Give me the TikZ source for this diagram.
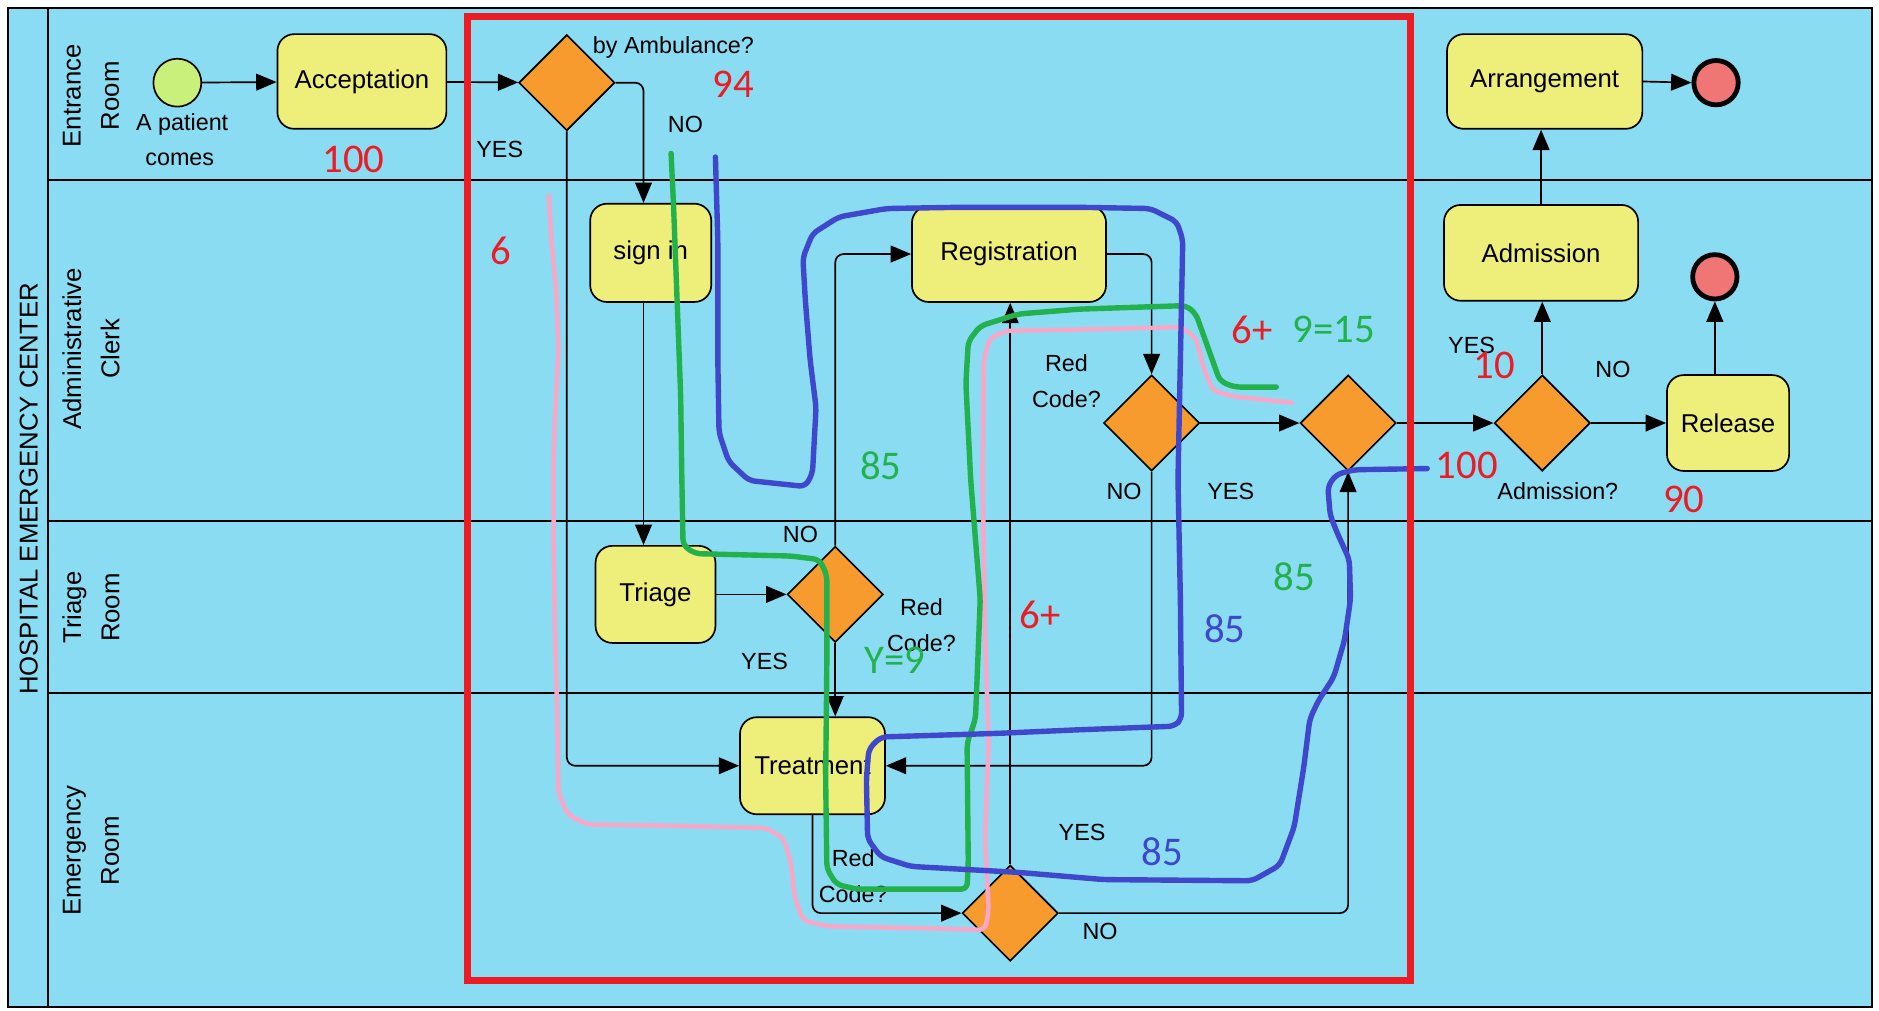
\documentclass[tikz,border=0pt]{standalone}
\usepackage{fontspec}
\setmainfont{Liberation Sans}
\newfontfamily\numfont{Carlito}
\usetikzlibrary{shapes.geometric,arrows.meta}
\definecolor{bgblue}{RGB}{137,220,242}
\definecolor{taskyellow}{RGB}{238,238,122}
\definecolor{gateorange}{RGB}{248,155,46}
\definecolor{startgreen}{RGB}{200,240,122}
\definecolor{endred}{RGB}{240,117,117}
\definecolor{boxred}{RGB}{237,28,36}
\definecolor{penpink}{RGB}{247,168,200}
\definecolor{pengreen}{RGB}{34,177,76}
\definecolor{penblue}{RGB}{63,72,204}
\tikzset{
  task/.style={draw=black, line width=1.4pt, fill=taskyellow, rounded corners=14pt,
    font=\fontsize{21.5}{25}\selectfont, inner sep=0pt},
  gate/.style={draw=black, line width=1.4pt, fill=gateorange, diamond, aspect=1,
    minimum width=80pt, minimum height=80pt, inner sep=0pt},
  startev/.style={circle, draw=black, line width=1.4pt, fill=startgreen, minimum size=40pt, inner sep=0pt},
  endev/.style={circle, draw=black, line width=4pt, fill=endred, minimum size=37pt, inner sep=0pt},
  flow/.style={draw=black, line width=1.4pt, rounded corners=7pt, -{Triangle[length=17pt,width=14pt]}},
  lbl/.style={font=\fontsize{19.5}{30}\selectfont, align=center, inner sep=0pt},
  lane/.style={font=\fontsize{21.5}{32}\selectfont, align=center, rotate=90, inner sep=0pt},
  num/.style={font=\numfont\fontsize{34}{36}\selectfont, inner sep=0pt},
  pen/.style={line width=4.5pt, line cap=round, line join=round, rounded corners=5pt}
}
\begin{document}
\begin{tikzpicture}[x=1pt,y=-1pt]
\useasboundingbox (0,0) rectangle (1568,843);
\fill[white] (0,0) rectangle (1568,843);
% pool and lanes
\draw[line width=1.5pt, fill=bgblue] (7,7) rectangle (1562,840);
\draw[line width=1.5pt] (40,7) -- (40,840);
\draw[line width=1.5pt] (40,150) -- (1562,150);
\draw[line width=1.5pt] (40,435) -- (1562,435);
\draw[line width=1.5pt] (40,578) -- (1562,578);
\node[lane] (pooltitle) at (24,408) {HOSPITAL EMERGENCY CENTER};
\node[lane] (lane1) at (76,80) {Entrance\\Room};
\node[lane] (lane2) at (76,291) {Administrative\\Clerk};
\node[lane] (lane3) at (76,507) {Triage\\Room};
\node[lane] (lane4) at (76,710) {Emergency\\Room};

% nodes
\node[startev] (start) at (148,69) {};
\node[task, minimum width=141pt, minimum height=79pt] (acc) at (302,68) {Acceptation};
\node[gate] (g1) at (473,69) {};
\node[task, minimum width=101pt, minimum height=82pt] (signin) at (543,211) {sign in};
\node[task, minimum width=162pt, minimum height=80pt] (reg) at (842,212) {Registration};
\node[gate] (g2) at (961,353) {};
\node[gate] (g3) at (1125,353) {};
\node[gate] (g4) at (1287,353) {};
\node[task, minimum width=102pt, minimum height=80pt] (rel) at (1442,353) {Release};
\node[endev] (end2) at (1431,231) {};
\node[task, minimum width=162pt, minimum height=80pt] (adm) at (1286,211) {Admission};
\node[task, minimum width=163pt, minimum height=79pt] (arr) at (1289,68) {Arrangement};
\node[endev] (end1) at (1432,69) {};
\node[task, minimum width=100pt, minimum height=81pt] (tri) at (547,496) {Triage};
\node[gate] (g5) at (697,496) {};
\node[task, minimum width=121pt, minimum height=81pt] (trt) at (678,639) {Treatment};
\node[gate] (g6) at (843,762) {};

% connectors
\draw[flow] (start) -- (acc);
\draw[flow] (acc) -- (g1);
\draw[flow] (g1.east) -| ([xshift=-6pt]signin.north);
\draw[flow] (g1.south) |- (trt.west);
\draw[flow] ([xshift=-6pt]signin.south) -- ([xshift=-6pt]signin.south |- tri.north);
\draw[flow] (tri) -- (g5);
\draw[flow] (g5.north) |- (reg.west);
\draw[flow] (g5.south) -- (g5.south |- trt.north);
\draw[flow] (reg.east) -| (g2.north);
\draw[flow] (g2.south) |- (trt.east);
\draw[flow] (g2.east) -- (g3.west);
\draw[flow] (trt.south) |- (g6.west);
\draw[flow] (g6.north) -- (g6.north |- reg.south);
\draw[flow] (g6.east) -| (g3.south);
\draw[flow] (g3.east) -- (g4.west);
\draw[flow] (g4.north) -- (g4.north |- adm.south);
\draw[flow] (g4.east) -- (rel.west);
\draw[flow] (end2.south |- rel.north) -- (end2.south);
\draw[flow] (adm.north) -- (adm.north |- arr.south);
\draw[flow] (arr.east) -- (end1.west);

% labels
\node[lbl] (t1) at (152,104) {A patient};
\node[lbl] (t2) at (150,133) {comes};
\node[lbl] (t3) at (562,40) {by Ambulance?};
\node[lbl] (t4) at (572,104) {NO};
\node[lbl] (t5) at (417,125) {YES};
\node[lbl] (t6) at (890,318) {Red\\Code?};
\node[lbl] (t7) at (938,410) {NO};
\node[lbl] (t8) at (1027,410) {YES};
\node[lbl] (t9) at (668,446) {NO};
\node[lbl] (t10) at (638,552) {YES};
\node[lbl] (t11) at (769,522) {Red\\Code?};
\node[lbl] (t12) at (712,731) {Red\\Code?};
\node[lbl] (t13) at (903,695) {YES};
\node[lbl] (t14) at (918,777) {NO};
\node[lbl] (t15) at (1228,288) {YES};
\node[lbl] (t16) at (1346,308) {NO};
\node[lbl] (t17) at (1300,410) {Admission?};

% hand-drawn paths
\draw[pen, penpink, line width=3.8pt] (458,163) -- (460,200) -- (464,240) -- (466,290) -- (464,330) -- (462,380) -- (462,450) -- (463,520) -- (465,600) -- (466,662) -- (474,680) -- (490,688) -- (560,689) -- (640,691) -- (654,700) -- (660,720) -- (663,748) -- (670,768) -- (690,773) -- (790,775) -- (822,776) -- (825,760) -- (822,700) -- (825,620) -- (822,530) -- (820,400) -- (821,300) -- (826,282) -- (840,276) -- (900,275) -- (986,273) -- (998,282) -- (1004,306) -- (1012,326) -- (1030,331) -- (1078,336);
\draw[pen, pengreen] (560,128) -- (562,170) -- (565,250) -- (568,330) -- (569,400) -- (570,455) -- (580,462) -- (660,464) -- (684,467) -- (690,480) -- (690,550) -- (689,650) -- (690,725) -- (698,738) -- (715,742) -- (807,742) -- (808,720) -- (807,620) -- (814,600) -- (818,500) -- (810,400) -- (806,320) -- (808,285) -- (818,272) -- (850,262) -- (900,258) -- (990,255) -- (998,262) -- (1008,290) -- (1018,318) -- (1030,323) -- (1065,323);
\draw[pen, penblue] (597,131) -- (599,200) -- (599,300) -- (600,361) -- (608,385) -- (625,401) -- (672,406) -- (678,395) -- (681,340) -- (676,300) -- (672,250) -- (670,215) -- (678,195) -- (700,181) -- (740,174) -- (800,173) -- (900,173) -- (960,174) -- (982,185) -- (987,200) -- (985,300) -- (983,400) -- (985,500) -- (986,600) -- (980,606) -- (900,609) -- (832,612) -- (735,615) -- (725,625) -- (723,650) -- (724,700) -- (735,715) -- (760,723) -- (850,728) -- (921,734) -- (1045,735) -- (1068,722) -- (1080,690) -- (1088,640) -- (1093,600) -- (1100,585) -- (1113,565) -- (1122,534) -- (1127,500) -- (1126,467) -- (1116,445) -- (1110,430) -- (1108,406) -- (1115,396) -- (1130,392) -- (1191,391);

% numbers
\node[num, boxred] (n1) at (295,133) {100};
\node[num, boxred] (n2) at (612,70) {94};
\node[num, boxred] (n3) at (418,209) {6};
\node[num, pengreen] (n4) at (735,389) {85};
\node[num, boxred] (n5) at (1045,275) {6+};
\node[num, pengreen] (n6) at (1113,275) {9=15};
\node[num, pengreen] (n7) at (747,551) {Y=9};
\node[num, boxred] (n8) at (868,513) {6+};
\node[num, penblue] (n9) at (1022,525) {85};
\node[num, pengreen] (n10) at (1080,481) {85};
\node[num, penblue] (n11) at (970,711) {85};
\node[num, boxred] (n12) at (1247,305) {10};
\node[num, boxred] (n13) at (1224,388) {100};
\node[num, boxred] (n14) at (1405,417) {90};

% red frame
\draw[boxred, line width=5.5pt] (390,14) rectangle (1177,818);
\end{tikzpicture}
\end{document}
